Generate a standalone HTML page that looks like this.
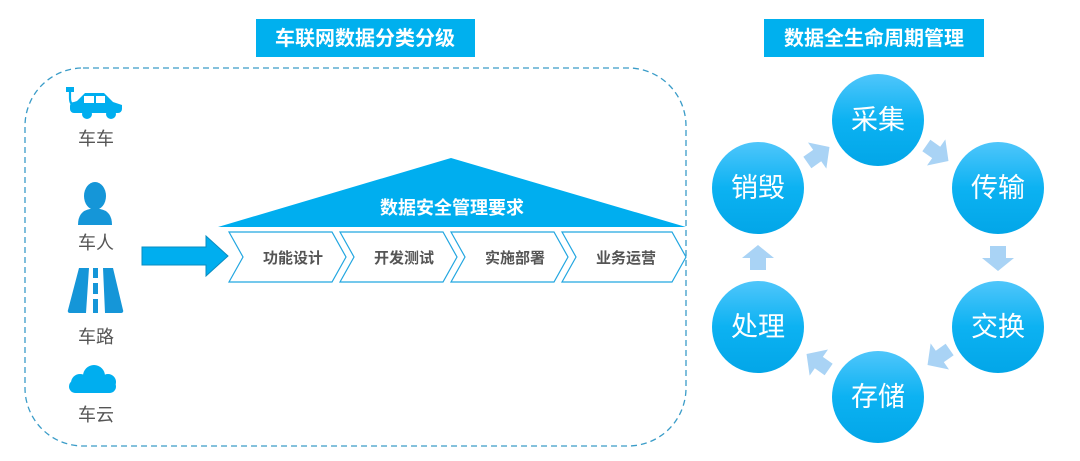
<!DOCTYPE html>
<html><head><meta charset="utf-8"><style>
body{margin:0;background:#fff;width:1080px;height:456px;overflow:hidden;font-family:"Liberation Sans","Noto Sans CJK SC",sans-serif}
</style></head><body>
<svg width="1080" height="456" xmlns="http://www.w3.org/2000/svg" font-family="Liberation Sans, Noto Sans CJK SC, sans-serif">
<defs>
<linearGradient id="g" x1="0" y1="0" x2="0" y2="1"><stop offset="0" stop-color="#4fc6fb"/><stop offset="0.5" stop-color="#0cb2f2"/><stop offset="1" stop-color="#02a6e8"/></linearGradient>
</defs>
<rect x="256" y="19" width="219" height="38" fill="#00b0ee"/>
<text x="365" y="45" font-size="20" font-weight="bold" fill="#fff" text-anchor="middle">车联网数据分类分级</text>
<rect x="764" y="19" width="220" height="38" fill="#00b0ee"/>
<text x="874" y="45" font-size="20" font-weight="bold" fill="#fff" text-anchor="middle">数据全生命周期管理</text>
<rect x="25" y="68" width="661" height="378" rx="58" fill="none" stroke="#3a9cc8" stroke-width="1.3" stroke-dasharray="6,4"/>
<!-- car -->
<g fill="#00aeef">
<path d="M76 113 h42 a4 4 0 0 0 4 -4 v-4 l-9 -3 l-9 -9 h-19 l-8 8 l-3 1 a4 4 0 0 0 -4 4 v3 a4 4 0 0 0 4 4 z"/>
<circle cx="87" cy="114" r="5"/><circle cx="111" cy="114" r="5"/>
<path d="M70 90 v8 q0 8 7 8" fill="none" stroke="#00aeef" stroke-width="2.2"/>
<rect x="66" y="87" width="8" height="5"/>
</g>
<rect x="84" y="96" width="10" height="7" fill="#fff"/><rect x="96" y="96" width="9" height="7" fill="#fff"/>
<text x="96" y="145" font-size="18" fill="#555" text-anchor="middle">车车</text>
<!-- person -->
<g fill="#1596d8"><ellipse cx="95" cy="196" rx="11" ry="14"/><path d="M78 225 q0 -14 12 -16 h10 q12 2 12 16 z"/></g>
<text x="96" y="249" font-size="18" fill="#555" text-anchor="middle">车人</text>
<!-- road -->
<g fill="#1596d8"><path d="M79 268 h10 l-3 45 h-16 a2 2 0 0 1 -2 -3 z"/><path d="M103 268 h10 l10 42 a2 2 0 0 1 -2 3 h-16 z"/><rect x="93" y="268" width="5" height="10"/><rect x="93" y="283" width="5" height="11"/><rect x="93" y="299" width="5" height="14"/></g>
<text x="96" y="343" font-size="18" fill="#555" text-anchor="middle">车路</text>
<!-- cloud -->
<g fill="#00aeef"><circle cx="94" cy="376" r="11"/><circle cx="80" cy="383" r="9"/><circle cx="108" cy="382" r="8"/><rect x="69" y="380" width="47" height="13" rx="6.5"/></g>
<text x="96" y="421" font-size="18" fill="#555" text-anchor="middle">车云</text>
<!-- big arrow -->
<path d="M142 247 h64 v-11 l22 20 l-22 20 v-11 h-64 z" fill="#00aeef" stroke="#0a8cc0" stroke-width="1"/>
<!-- triangle -->
<path d="M218 227 L451 158 L686 227 Z" fill="#00aeef"/>
<text x="452" y="214" font-size="18" font-weight="bold" fill="#fff" text-anchor="middle">数据安全管理要求</text>
<g fill="#fff" stroke="#22a6e0" stroke-width="1.2">
<path d="M229 232 h103 l14 25 l-14 25 h-103 l14 -25 z"/>
<path d="M340 232 h103 l14 25 l-14 25 h-103 l14 -25 z"/>
<path d="M451 232 h103 l14 25 l-14 25 h-103 l14 -25 z"/>
<path d="M562 232 h110 l14 25 l-14 25 h-110 l14 -25 z"/>
</g>
<g font-size="15" font-weight="bold" fill="#555" text-anchor="middle">
<text x="293" y="263">功能设计</text><text x="404" y="263">开发测试</text><text x="515" y="263">实施部署</text><text x="626" y="263">业务运营</text>
</g>
<!-- cycle -->
<g fill="url(#g)">
<circle cx="878" cy="120" r="46"/><circle cx="998" cy="188" r="46"/><circle cx="998" cy="327" r="46"/><circle cx="878" cy="397" r="46"/><circle cx="758" cy="327" r="46"/><circle cx="758" cy="188" r="46"/>
</g>
<g font-size="27" fill="#fff" text-anchor="middle">
<text x="878" y="129">采集</text><text x="998" y="197">传输</text><text x="998" y="336">交换</text><text x="878" y="406">存储</text><text x="758" y="336">处理</text><text x="758" y="197">销毁</text>
</g>
<g fill="#a9d3f5">
<g transform="translate(937,153) rotate(35)"><path d="M-13 -7 h12 v-9 l15 16 l-15 16 v-9 h-12 z"/></g>
<g transform="translate(998,258) rotate(90)"><path d="M-12 -8 h12 v-8 l13 16 l-13 16 v-8 h-12 z"/></g>
<g transform="translate(939,357) rotate(145)"><path d="M-13 -7 h12 v-9 l15 16 l-15 16 v-9 h-12 z"/></g>
<g transform="translate(818,362) rotate(-145)"><path d="M-13 -7 h12 v-9 l15 16 l-15 16 v-9 h-12 z"/></g>
<g transform="translate(758,258) rotate(-90)"><path d="M-12 -8 h12 v-8 l13 16 l-13 16 v-8 h-12 z"/></g>
<g transform="translate(818,155) rotate(-35)"><path d="M-13 -7 h12 v-9 l15 16 l-15 16 v-9 h-12 z"/></g>
</g>
</svg>
</body></html>
